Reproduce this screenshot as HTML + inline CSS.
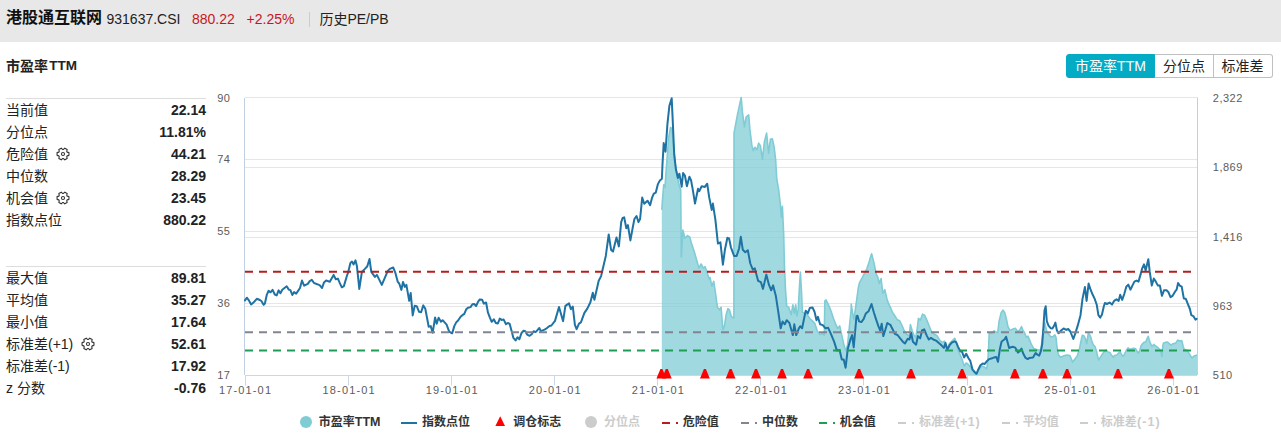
<!DOCTYPE html>
<html lang="zh"><head><meta charset="utf-8"><title>历史PE/PB</title><style>
html,body{margin:0;padding:0}
body{width:1281px;height:442px;position:relative;overflow:hidden;background:#fff;font-family:"Liberation Sans","Noto Sans CJK SC",sans-serif;color:#333}
.hdr{position:absolute;left:0;top:0;width:1281px;height:42px;background:#e8e8e8}
.t{position:absolute;line-height:1;white-space:nowrap}
.sep{position:absolute;left:309px;top:12px;width:1px;height:15px;background:#ccc}
.btns{position:absolute;left:1066px;top:54px;width:207px;height:24px}
.b{position:absolute;top:0;height:22px;border:1px solid #c0c0c0;background:#fff;box-sizing:content-box}
.b.on{background:#04abc4;border-color:#04abc4;border-radius:3px 0 0 3px}
.b:last-child{border-radius:0 3px 3px 0}
.hl{position:absolute;left:6px;width:200px;height:1px;background:#ddd}
.gear{position:absolute}
.chart{position:absolute;left:0;top:0}
.chart text{font-family:"Liberation Sans",sans-serif}
.li{position:absolute}
</style></head>
<body>
<div class="hdr"><span class="t" style="font-size:16px;top:10.2px;color:#111;left:6px;font-weight:bold;">港股通互联网</span><span class="t" style="font-size:14px;top:11.75px;color:#222;left:106.5px;">931637.CSI</span><span class="t" style="font-size:14px;top:11.75px;color:#c7161e;left:192px;">880.22</span><span class="t" style="font-size:14px;top:11.75px;color:#c7161e;left:246.6px;">+2.25%</span><i class="sep"></i><span class="t" style="font-size:14px;top:11.5px;color:#222;left:319.5px;">历史</span><span class="t" style="font-size:14px;top:11.75px;color:#222;left:347.4px;">PE/PB</span></div><span class="t" style="font-size:14px;top:58.5px;color:#222;left:6px;font-weight:bold;">市盈率</span><span class="t" style="font-size:13.5px;top:59.07px;color:#222;left:49.2px;font-weight:bold;">TTM</span><div class="btns"><div class="b on" style="left:0;width:87px"><span class="t" style="font-size:14px;top:3.8px;color:#fff;left:8.1px;">市盈率</span><span class="t" style="font-size:14px;top:3.95px;color:#fff;left:50.1px;">TTM</span></div><div class="b" style="left:89px;width:58px;border-left:0"><span class="t" style="font-size:14px;top:3.8px;color:#222;left:8px;">分位点</span></div><div class="b" style="left:148px;width:58px;border-left:0"><span class="t" style="font-size:14px;top:3.8px;color:#222;left:7.6px;">标准差</span></div></div><i class="hl" style="top:98px"></i><span class="t" style="font-size:14px;top:102.5px;color:#222;left:6px;">当前值</span><span class="t" style="font-size:14px;top:103.15px;color:#222;right:1075px;font-weight:bold;">22.14</span><span class="t" style="font-size:14px;top:124.5px;color:#222;left:6px;">分位点</span><span class="t" style="font-size:14px;top:125.15px;color:#222;right:1075px;font-weight:bold;">11.81%</span><span class="t" style="font-size:14px;top:146.5px;color:#222;left:6px;">危险值</span><svg class="gear" style="left:55px;top:145.7px" width="16" height="16" viewBox="55 145.7 16 16"><path d="M67.20 151.83 L68.94 152.33 L68.94 155.07 L67.20 155.57 L66.72 156.40 L67.16 158.16 L64.78 159.53 L63.48 158.27 L62.52 158.27 L61.22 159.53 L58.84 158.16 L59.28 156.40 L58.80 155.57 L57.06 155.07 L57.06 152.33 L58.80 151.83 L59.28 151.00 L58.84 149.24 L61.22 147.87 L62.52 149.13 L63.48 149.13 L64.78 147.87 L67.16 149.24 L66.72 151.00Z" fill="none" stroke="#333" stroke-width="1.1" stroke-linejoin="round"/><circle cx="63" cy="153.7" r="1.55" fill="none" stroke="#333" stroke-width="1.05"/></svg><span class="t" style="font-size:14px;top:147.15px;color:#222;right:1075px;font-weight:bold;">44.21</span><span class="t" style="font-size:14px;top:168.5px;color:#222;left:6px;">中位数</span><span class="t" style="font-size:14px;top:169.15px;color:#222;right:1075px;font-weight:bold;">28.29</span><span class="t" style="font-size:14px;top:190.5px;color:#222;left:6px;">机会值</span><svg class="gear" style="left:55px;top:189.7px" width="16" height="16" viewBox="55 189.7 16 16"><path d="M67.20 195.83 L68.94 196.33 L68.94 199.07 L67.20 199.57 L66.72 200.40 L67.16 202.16 L64.78 203.53 L63.48 202.27 L62.52 202.27 L61.22 203.53 L58.84 202.16 L59.28 200.40 L58.80 199.57 L57.06 199.07 L57.06 196.33 L58.80 195.83 L59.28 195.00 L58.84 193.24 L61.22 191.87 L62.52 193.13 L63.48 193.13 L64.78 191.87 L67.16 193.24 L66.72 195.00Z" fill="none" stroke="#333" stroke-width="1.1" stroke-linejoin="round"/><circle cx="63" cy="197.7" r="1.55" fill="none" stroke="#333" stroke-width="1.05"/></svg><span class="t" style="font-size:14px;top:191.15px;color:#222;right:1075px;font-weight:bold;">23.45</span><span class="t" style="font-size:14px;top:212.5px;color:#222;left:6px;">指数点位</span><span class="t" style="font-size:14px;top:213.15px;color:#222;right:1075px;font-weight:bold;">880.22</span><i class="hl" style="top:266px"></i><span class="t" style="font-size:14px;top:270.5px;color:#222;left:6px;">最大值</span><span class="t" style="font-size:14px;top:271.15px;color:#222;right:1075px;font-weight:bold;">89.81</span><span class="t" style="font-size:14px;top:292.5px;color:#222;left:6px;">平均值</span><span class="t" style="font-size:14px;top:293.15px;color:#222;right:1075px;font-weight:bold;">35.27</span><span class="t" style="font-size:14px;top:314.5px;color:#222;left:6px;">最小值</span><span class="t" style="font-size:14px;top:315.15px;color:#222;right:1075px;font-weight:bold;">17.64</span><span class="t" style="font-size:14px;top:336.5px;color:#222;left:6px;">标准差</span><span class="t" style="font-size:14px;top:336.85px;color:#222;left:48px;">(+1)</span><svg class="gear" style="left:80px;top:335.7px" width="16" height="16" viewBox="80 335.7 16 16"><path d="M92.20 341.83 L93.94 342.33 L93.94 345.07 L92.20 345.57 L91.72 346.40 L92.16 348.16 L89.78 349.53 L88.48 348.27 L87.52 348.27 L86.22 349.53 L83.84 348.16 L84.28 346.40 L83.80 345.57 L82.06 345.07 L82.06 342.33 L83.80 341.83 L84.28 341.00 L83.84 339.24 L86.22 337.87 L87.52 339.13 L88.48 339.13 L89.78 337.87 L92.16 339.24 L91.72 341.00Z" fill="none" stroke="#333" stroke-width="1.1" stroke-linejoin="round"/><circle cx="88" cy="343.7" r="1.55" fill="none" stroke="#333" stroke-width="1.05"/></svg><span class="t" style="font-size:14px;top:337.15px;color:#222;right:1075px;font-weight:bold;">52.61</span><span class="t" style="font-size:14px;top:358.5px;color:#222;left:6px;">标准差</span><span class="t" style="font-size:14px;top:358.85px;color:#222;left:48px;">(-1)</span><span class="t" style="font-size:14px;top:359.15px;color:#222;right:1075px;font-weight:bold;">17.92</span><span class="t" style="font-size:14px;top:380.85px;color:#222;left:6px;">z</span><span class="t" style="font-size:14px;top:380.5px;color:#222;left:17px;">分数</span><span class="t" style="font-size:14px;top:381.15px;color:#222;right:1075px;font-weight:bold;">-0.76</span><svg class="chart" width="1281" height="442" viewBox="0 0 1281 442"><path d="M245 159.5 H1198" stroke="#e6e6e6" stroke-width="1"/><path d="M245 231.5 H1198" stroke="#e6e6e6" stroke-width="1"/><path d="M245 303.5 H1198" stroke="#e6e6e6" stroke-width="1"/><path d="M245 167.5 H1198" stroke="#e6e6e6" stroke-width="1"/><path d="M245 237.5 H1198" stroke="#e6e6e6" stroke-width="1"/><path d="M245 306.5 H1198" stroke="#e6e6e6" stroke-width="1"/><path d="M245 97.5 H1198" stroke="#e6e6e6" stroke-width="1"/><path d="M661.8 375.5 L661.8 209.8 L662.5 199.7 L663.7 184.7 L665.0 187.2 L666.2 169.8 L668.7 137.4 L670.5 127.4 L671.9 128.6 L673.7 147.3 L675.4 164.8 L677.4 177.2 L679.4 186.0 L680.7 189.7 L681.3 257.0 L682.9 230.0 L684.8 238.3 L687.5 235.6 L689.7 236.9 L691.6 243.7 L694.3 251.8 L697.0 261.3 L698.9 268.1 L701.1 264.0 L703.3 268.1 L705.1 266.7 L707.0 272.2 L709.2 279.0 L710.0 277.5 L711.9 286.2 L713.7 281.2 L715.4 292.4 L717.4 307.3 L719.4 309.8 L721.1 307.3 L722.9 329.7 L724.4 326.0 L726.1 314.8 L727.9 308.6 L729.4 309.8 L731.1 316.0 L732.3 317.3 L733.9 318.0 L734.0 134.0 L734.0 133.1 L737.5 114.4 L741.2 97.5 L742.4 111.9 L744.4 126.9 L746.2 116.9 L748.7 114.9 L749.9 129.4 L751.9 145.6 L753.2 150.6 L754.9 147.3 L756.9 149.8 L758.6 143.1 L760.4 145.6 L762.4 159.3 L764.4 141.8 L766.6 133.1 L768.6 153.1 L770.4 139.4 L772.4 138.9 L774.1 146.8 L775.6 159.3 L776.8 179.2 L778.7 190.0 L780.4 204.9 L781.4 217.4 L782.4 206.2 L783.7 234.8 L784.4 264.6 L785.5 289.9 L786.7 306.0 L788.7 307.3 L791.2 314.7 L792.9 304.8 L794.4 313.5 L795.7 304.8 L796.9 316.0 L798.2 309.8 L799.4 287.4 L800.4 272.0 L801.4 289.9 L802.4 312.2 L804.9 313.5 L807.3 314.7 L809.8 318.5 L812.3 320.9 L814.8 323.4 L817.3 330.9 L819.8 334.6 L822.3 333.4 L824.3 335.1 L824.8 301.1 L826.0 299.8 L828.5 304.8 L831.0 311.0 L833.5 318.5 L835.9 324.7 L837.7 328.4 L839.7 325.9 L842.2 337.1 L844.1 345.8 L845.9 350.8 L847.6 344.6 L849.6 324.7 L851.1 309.8 L851.2 304.1 L852.5 312.1 L853.7 319.6 L855.0 312.1 L856.7 299.7 L858.2 288.5 L859.4 282.8 L862.4 277.3 L864.9 272.3 L866.9 268.6 L868.6 263.6 L870.4 257.4 L871.6 253.7 L872.9 258.6 L874.4 264.9 L876.1 273.6 L877.8 277.3 L879.3 283.5 L881.1 278.5 L882.8 293.5 L884.8 289.7 L886.8 298.4 L888.5 303.4 L890.3 307.1 L892.3 312.1 L894.8 315.8 L897.2 319.6 L899.7 320.8 L902.2 325.8 L904.2 330.8 L906.7 334.5 L909.2 335.7 L910.4 324.5 L912.2 330.8 L914.1 335.7 L915.9 337.0 L917.6 325.8 L918.4 318.3 L920.4 320.1 L922.6 314.1 L924.6 315.1 L926.6 319.6 L929.1 325.8 L931.6 332.0 L934.0 334.0 L937.0 335.7 L940.0 340.6 L942.5 342.4 L944.4 341.2 L946.2 346.8 L947.5 348.0 L949.3 343.7 L952.4 340.6 L954.7 338.4 L956.2 341.8 L958.0 349.9 L959.9 354.2 L961.8 358.6 L963.4 363.6 L964.3 366.1 L966.1 363.0 L968.0 364.2 L969.9 366.1 L971.1 368.6 L973.0 371.0 L975.5 374.3 L977.3 372.9 L979.8 367.9 L982.3 366.1 L984.8 367.3 L986.7 368.8 L987.9 359.8 L988.5 349.9 L989.2 332.7 L991.5 333.2 L994.1 330.9 L996.3 332.1 L997.7 332.7 L999.1 321.2 L1001.2 312.4 L1003.0 310.2 L1004.7 312.4 L1006.5 319.4 L1007.9 326.5 L1010.0 330.4 L1012.7 329.1 L1015.3 328.2 L1018.0 331.8 L1019.7 330.0 L1021.5 326.5 L1022.7 330.0 L1024.5 332.7 L1026.3 337.1 L1028.0 336.2 L1029.8 340.6 L1031.6 345.0 L1033.9 348.6 L1036.5 349.4 L1039.2 350.3 L1040.9 349.4 L1042.7 335.3 L1044.7 322.7 L1046.8 331.5 L1048.8 334.2 L1050.9 337.0 L1052.9 336.6 L1054.9 334.9 L1056.0 337.6 L1057.0 347.1 L1058.3 354.6 L1060.4 357.3 L1062.4 356.4 L1064.4 355.6 L1067.1 355.0 L1069.9 355.6 L1071.5 359.4 L1072.6 362.1 L1074.6 359.4 L1077.3 356.0 L1079.4 349.2 L1080.7 342.4 L1082.3 335.2 L1084.1 336.0 L1085.5 339.0 L1086.8 343.7 L1088.2 333.6 L1089.5 334.2 L1090.9 337.6 L1092.2 342.4 L1093.6 345.1 L1095.0 346.5 L1096.3 350.5 L1097.7 356.6 L1098.6 360.0 L1100.4 357.3 L1102.4 353.9 L1104.5 351.2 L1106.2 350.1 L1107.9 351.9 L1109.9 352.6 L1111.9 355.6 L1113.3 357.3 L1114.6 355.6 L1116.7 355.0 L1118.7 353.2 L1120.1 351.9 L1121.4 354.2 L1122.8 356.4 L1124.1 355.0 L1126.2 350.5 L1128.2 347.8 L1129.6 349.2 L1131.6 348.8 L1133.6 348.2 L1135.7 348.8 L1137.0 351.2 L1138.4 353.2 L1139.7 350.5 L1141.1 345.8 L1142.5 343.7 L1143.8 342.4 L1145.8 341.7 L1146.9 339.0 L1148.2 336.3 L1149.2 339.7 L1150.6 343.7 L1152.0 346.5 L1153.7 344.4 L1155.3 345.8 L1157.4 347.1 L1159.4 349.2 L1160.8 350.5 L1161.9 356.4 L1162.8 345.8 L1163.5 343.1 L1165.5 342.4 L1167.6 342.0 L1168.9 343.3 L1171.0 345.1 L1173.0 343.7 L1175.7 343.1 L1177.7 340.1 L1179.8 341.0 L1181.8 340.6 L1183.2 346.5 L1184.1 349.2 L1186.6 349.9 L1188.6 352.6 L1190.6 356.0 L1192.0 358.0 L1194.0 356.0 L1197.1 355.0 L1197 375.5 Z" fill="#80ccd5" fill-opacity=".75" stroke="none"/><path d="M661.8 209.8 L662.5 199.7 L663.7 184.7 L665.0 187.2 L666.2 169.8 L668.7 137.4 L670.5 127.4 L671.9 128.6 L673.7 147.3 L675.4 164.8 L677.4 177.2 L679.4 186.0 L680.7 189.7 L681.3 257.0 L682.9 230.0 L684.8 238.3 L687.5 235.6 L689.7 236.9 L691.6 243.7 L694.3 251.8 L697.0 261.3 L698.9 268.1 L701.1 264.0 L703.3 268.1 L705.1 266.7 L707.0 272.2 L709.2 279.0 L710.0 277.5 L711.9 286.2 L713.7 281.2 L715.4 292.4 L717.4 307.3 L719.4 309.8 L721.1 307.3 L722.9 329.7 L724.4 326.0 L726.1 314.8 L727.9 308.6 L729.4 309.8 L731.1 316.0 L732.3 317.3 L733.9 318.0 L734.0 134.0 L734.0 133.1 L737.5 114.4 L741.2 97.5 L742.4 111.9 L744.4 126.9 L746.2 116.9 L748.7 114.9 L749.9 129.4 L751.9 145.6 L753.2 150.6 L754.9 147.3 L756.9 149.8 L758.6 143.1 L760.4 145.6 L762.4 159.3 L764.4 141.8 L766.6 133.1 L768.6 153.1 L770.4 139.4 L772.4 138.9 L774.1 146.8 L775.6 159.3 L776.8 179.2 L778.7 190.0 L780.4 204.9 L781.4 217.4 L782.4 206.2 L783.7 234.8 L784.4 264.6 L785.5 289.9 L786.7 306.0 L788.7 307.3 L791.2 314.7 L792.9 304.8 L794.4 313.5 L795.7 304.8 L796.9 316.0 L798.2 309.8 L799.4 287.4 L800.4 272.0 L801.4 289.9 L802.4 312.2 L804.9 313.5 L807.3 314.7 L809.8 318.5 L812.3 320.9 L814.8 323.4 L817.3 330.9 L819.8 334.6 L822.3 333.4 L824.3 335.1 L824.8 301.1 L826.0 299.8 L828.5 304.8 L831.0 311.0 L833.5 318.5 L835.9 324.7 L837.7 328.4 L839.7 325.9 L842.2 337.1 L844.1 345.8 L845.9 350.8 L847.6 344.6 L849.6 324.7 L851.1 309.8 L851.2 304.1 L852.5 312.1 L853.7 319.6 L855.0 312.1 L856.7 299.7 L858.2 288.5 L859.4 282.8 L862.4 277.3 L864.9 272.3 L866.9 268.6 L868.6 263.6 L870.4 257.4 L871.6 253.7 L872.9 258.6 L874.4 264.9 L876.1 273.6 L877.8 277.3 L879.3 283.5 L881.1 278.5 L882.8 293.5 L884.8 289.7 L886.8 298.4 L888.5 303.4 L890.3 307.1 L892.3 312.1 L894.8 315.8 L897.2 319.6 L899.7 320.8 L902.2 325.8 L904.2 330.8 L906.7 334.5 L909.2 335.7 L910.4 324.5 L912.2 330.8 L914.1 335.7 L915.9 337.0 L917.6 325.8 L918.4 318.3 L920.4 320.1 L922.6 314.1 L924.6 315.1 L926.6 319.6 L929.1 325.8 L931.6 332.0 L934.0 334.0 L937.0 335.7 L940.0 340.6 L942.5 342.4 L944.4 341.2 L946.2 346.8 L947.5 348.0 L949.3 343.7 L952.4 340.6 L954.7 338.4 L956.2 341.8 L958.0 349.9 L959.9 354.2 L961.8 358.6 L963.4 363.6 L964.3 366.1 L966.1 363.0 L968.0 364.2 L969.9 366.1 L971.1 368.6 L973.0 371.0 L975.5 374.3 L977.3 372.9 L979.8 367.9 L982.3 366.1 L984.8 367.3 L986.7 368.8 L987.9 359.8 L988.5 349.9 L989.2 332.7 L991.5 333.2 L994.1 330.9 L996.3 332.1 L997.7 332.7 L999.1 321.2 L1001.2 312.4 L1003.0 310.2 L1004.7 312.4 L1006.5 319.4 L1007.9 326.5 L1010.0 330.4 L1012.7 329.1 L1015.3 328.2 L1018.0 331.8 L1019.7 330.0 L1021.5 326.5 L1022.7 330.0 L1024.5 332.7 L1026.3 337.1 L1028.0 336.2 L1029.8 340.6 L1031.6 345.0 L1033.9 348.6 L1036.5 349.4 L1039.2 350.3 L1040.9 349.4 L1042.7 335.3 L1044.7 322.7 L1046.8 331.5 L1048.8 334.2 L1050.9 337.0 L1052.9 336.6 L1054.9 334.9 L1056.0 337.6 L1057.0 347.1 L1058.3 354.6 L1060.4 357.3 L1062.4 356.4 L1064.4 355.6 L1067.1 355.0 L1069.9 355.6 L1071.5 359.4 L1072.6 362.1 L1074.6 359.4 L1077.3 356.0 L1079.4 349.2 L1080.7 342.4 L1082.3 335.2 L1084.1 336.0 L1085.5 339.0 L1086.8 343.7 L1088.2 333.6 L1089.5 334.2 L1090.9 337.6 L1092.2 342.4 L1093.6 345.1 L1095.0 346.5 L1096.3 350.5 L1097.7 356.6 L1098.6 360.0 L1100.4 357.3 L1102.4 353.9 L1104.5 351.2 L1106.2 350.1 L1107.9 351.9 L1109.9 352.6 L1111.9 355.6 L1113.3 357.3 L1114.6 355.6 L1116.7 355.0 L1118.7 353.2 L1120.1 351.9 L1121.4 354.2 L1122.8 356.4 L1124.1 355.0 L1126.2 350.5 L1128.2 347.8 L1129.6 349.2 L1131.6 348.8 L1133.6 348.2 L1135.7 348.8 L1137.0 351.2 L1138.4 353.2 L1139.7 350.5 L1141.1 345.8 L1142.5 343.7 L1143.8 342.4 L1145.8 341.7 L1146.9 339.0 L1148.2 336.3 L1149.2 339.7 L1150.6 343.7 L1152.0 346.5 L1153.7 344.4 L1155.3 345.8 L1157.4 347.1 L1159.4 349.2 L1160.8 350.5 L1161.9 356.4 L1162.8 345.8 L1163.5 343.1 L1165.5 342.4 L1167.6 342.0 L1168.9 343.3 L1171.0 345.1 L1173.0 343.7 L1175.7 343.1 L1177.7 340.1 L1179.8 341.0 L1181.8 340.6 L1183.2 346.5 L1184.1 349.2 L1186.6 349.9 L1188.6 352.6 L1190.6 356.0 L1192.0 358.0 L1194.0 356.0 L1197.1 355.0" fill="none" stroke="#80ccd5" stroke-width="1.6" stroke-linejoin="round"/><path d="M244.5 98V375M1197.5 98V375" stroke="#c0d0e0" stroke-width="1" fill="none"/><path d="M245 375.5H1197" stroke="#ccd6eb" stroke-width="1" fill="none"/><path d="M245.5 375.5 v10M348.5 375.5 v10M451.5 375.5 v10M554.5 375.5 v10M657.5 375.5 v10M760.5 375.5 v10M863.5 375.5 v10M967.5 375.5 v10M1070.5 375.5 v10M1173.5 375.5 v10" stroke="#ccd6eb" stroke-width="1"/><path d="M245.0 300.4 L246.8 297.7 L248.5 299.8 L251.2 304.4 L253.7 302.3 L256.8 298.8 L259.9 300.0 L261.4 301.0 L263.6 304.8 L264.9 303.5 L266.8 294.8 L268.6 290.7 L270.5 292.3 L272.6 289.8 L274.8 294.5 L276.7 295.4 L278.6 290.4 L280.4 293.3 L282.3 289.8 L286.7 286.3 L288.8 289.6 L290.4 290.1 L292.3 295.0 L294.1 292.1 L296.2 293.6 L300.0 288.0 L302.0 280.5 L304.1 285.7 L307.8 283.8 L309.7 281.1 L311.8 279.9 L314.0 283.0 L319.6 285.1 L322.1 288.0 L324.0 282.4 L326.1 280.5 L329.8 281.7 L333.6 274.9 L335.8 279.2 L337.9 278.6 L339.6 282.6 L341.8 287.3 L343.9 286.1 L347.0 275.5 L348.0 272.9 L350.4 263.0 L352.0 261.6 L353.6 264.4 L355.5 260.4 L356.9 265.9 L359.3 288.9 L361.9 271.9 L364.9 268.9 L367.3 266.3 L369.5 259.0 L371.3 271.9 L374.9 276.9 L376.9 274.9 L381.8 284.9 L384.8 277.9 L387.8 270.9 L389.8 268.9 L393.2 267.5 L395.4 272.9 L397.8 281.9 L399.2 283.5 L401.4 289.9 L403.0 281.9 L404.8 286.9 L406.4 284.9 L409.2 300.8 L410.7 292.9 L412.7 315.4 L414.7 305.8 L416.7 306.2 L419.1 311.8 L421.1 312.2 L423.3 305.4 L425.3 308.8 L428.7 326.7 L430.7 326.1 L432.7 332.7 L435.1 317.4 L436.7 323.7 L438.6 317.8 L441.0 321.7 L442.6 320.2 L446.6 324.7 L449.2 331.7 L450.0 332.1 L452.2 333.3 L454.3 326.1 L456.2 322.4 L458.1 320.5 L460.6 316.8 L462.4 315.2 L464.3 313.9 L466.2 309.3 L468.0 307.7 L470.5 307.1 L472.4 304.3 L474.2 304.0 L476.1 306.0 L478.0 301.8 L479.8 299.4 L482.1 299.7 L483.8 303.7 L486.1 302.5 L487.9 312.4 L489.8 317.4 L491.7 321.8 L493.8 319.3 L495.8 323.0 L497.9 323.4 L499.8 318.6 L501.6 319.9 L503.7 319.6 L506.0 324.2 L507.8 323.0 L509.7 323.9 L511.6 331.1 L513.4 337.9 L515.6 340.4 L517.5 337.3 L519.4 339.2 L521.5 333.0 L523.6 330.8 L525.3 331.3 L527.1 334.6 L529.6 335.8 L531.7 334.2 L533.6 331.3 L535.6 332.1 L537.7 329.8 L539.3 328.0 L540.8 331.1 L544.6 329.6 L547.0 328.0 L549.5 325.9 L551.4 325.5 L555.0 320.9 L559.0 307.0 L563.1 321.2 L565.4 305.8 L569.0 303.4 L570.9 309.3 L572.8 306.5 L574.9 324.8 L576.6 329.1 L579.0 323.6 L580.9 322.4 L584.4 312.9 L587.3 308.6 L590.4 302.2 L592.8 292.7 L594.4 299.8 L598.7 280.8 L601.1 276.1 L605.8 255.9 L608.7 234.5 L611.1 249.9 L613.0 251.6 L616.5 237.4 L618.9 246.4 L621.2 222.1 L622.6 218.0 L624.2 217.4 L626.3 228.2 L627.9 225.1 L630.4 240.4 L632.8 227.2 L634.4 219.0 L636.5 216.0 L638.5 222.1 L640.1 219.0 L642.2 197.6 L644.2 203.8 L647.6 200.7 L650.1 205.2 L652.1 197.6 L653.8 193.6 L655.8 192.6 L657.8 184.4 L659.9 180.4 L661.9 178.7 L662.5 164.3 L663.7 143.1 L665.5 151.8 L667.4 124.4 L669.4 105.7 L671.7 98.2 L672.9 124.4 L674.2 154.3 L675.9 169.3 L677.9 178.0 L679.4 173.7 L681.7 186.7 L683.1 173.0 L684.9 175.5 L686.9 186.2 L689.4 176.7 L691.1 180.5 L692.9 190.4 L695.0 203.6 L698.0 188.7 L699.2 191.2 L701.7 186.2 L704.9 186.9 L707.2 183.7 L709.2 197.4 L711.7 209.9 L712.9 203.6 L715.4 219.8 L717.9 243.5 L720.4 242.3 L722.9 264.7 L724.9 249.8 L727.4 237.8 L729.1 238.5 L730.9 247.3 L734.1 256.0 L736.6 256.0 L739.1 248.5 L740.8 236.8 L742.8 249.8 L745.3 252.2 L747.8 250.2 L750.3 263.5 L752.8 269.7 L754.8 268.4 L758.1 280.8 L760.9 282.2 L763.0 288.9 L766.3 274.6 L769.0 284.9 L771.2 290.3 L773.1 285.4 L775.8 295.7 L778.5 313.4 L780.7 328.3 L782.6 321.5 L784.8 324.3 L786.7 320.2 L789.4 322.9 L791.3 329.7 L792.9 335.1 L794.3 324.3 L796.2 335.1 L798.9 328.3 L800.2 326.2 L802.1 328.3 L805.7 310.7 L807.8 313.4 L809.8 308.0 L812.5 307.4 L814.6 312.0 L816.5 320.2 L817.9 316.9 L820.1 324.3 L822.8 325.1 L825.5 328.3 L828.2 327.8 L830.9 333.8 L834.2 341.9 L836.9 350.6 L839.6 350.1 L841.8 359.6 L843.7 359.6 L845.6 367.7 L847.8 348.7 L850.5 339.2 L852.1 335.1 L853.7 347.3 L856.5 316.1 L857.5 315.7 L859.1 321.4 L861.3 322.1 L863.6 319.1 L865.8 313.5 L868.6 311.2 L871.5 304.0 L873.8 312.3 L876.0 319.1 L878.3 325.9 L880.1 330.5 L881.7 323.7 L883.3 336.1 L885.5 329.3 L887.3 323.0 L890.3 324.8 L892.6 329.3 L894.8 333.9 L897.5 335.0 L900.2 338.4 L903.2 342.2 L905.0 343.4 L907.7 338.8 L909.5 339.5 L911.1 332.7 L912.9 341.8 L916.1 344.7 L917.9 336.1 L920.2 338.4 L922.0 330.5 L924.2 329.3 L927.0 336.1 L928.8 339.5 L931.0 337.9 L933.3 339.5 L936.0 340.6 L939.4 343.6 L941.7 345.6 L943.9 347.9 L945.5 342.9 L947.3 349.7 L949.6 345.2 L951.9 342.5 L954.6 341.3 L956.2 342.4 L957.9 346.3 L960.2 351.2 L962.0 351.7 L964.1 357.4 L966.2 353.8 L968.5 358.3 L970.3 360.9 L972.6 369.7 L974.7 372.0 L976.5 373.8 L978.2 369.7 L980.4 365.3 L982.7 363.6 L984.8 363.9 L987.1 360.9 L989.2 359.1 L992.0 358.3 L994.1 357.4 L996.3 356.9 L998.0 361.8 L999.8 349.4 L1001.6 341.5 L1003.3 340.3 L1004.7 339.2 L1006.1 336.7 L1007.4 341.5 L1009.1 348.0 L1010.9 347.3 L1013.2 346.8 L1015.3 347.7 L1018.0 352.6 L1019.7 351.2 L1021.5 348.6 L1023.3 353.8 L1025.6 357.9 L1027.7 359.1 L1029.4 357.9 L1033.0 357.4 L1035.6 353.0 L1037.4 354.7 L1039.2 355.6 L1040.9 351.2 L1042.2 344.1 L1043.6 324.7 L1044.5 310.6 L1045.7 306.2 L1046.8 321.2 L1048.5 325.6 L1050.6 328.2 L1052.4 328.6 L1054.2 325.6 L1055.4 322.6 L1056.8 330.0 L1058.1 332.7 L1058.7 333.1 L1061.1 330.5 L1063.6 328.4 L1066.2 329.9 L1068.2 329.0 L1070.3 331.5 L1073.3 339.0 L1075.4 333.1 L1077.8 325.4 L1080.5 315.2 L1082.5 298.9 L1084.9 287.1 L1086.6 300.9 L1088.6 283.6 L1090.6 289.7 L1092.7 294.8 L1094.7 298.9 L1096.8 305.0 L1098.4 315.2 L1100.2 317.6 L1101.9 314.8 L1103.9 306.0 L1104.9 303.0 L1106.9 304.0 L1109.6 302.6 L1112.0 304.6 L1114.1 300.9 L1116.5 299.3 L1118.6 300.9 L1120.2 294.8 L1122.2 299.9 L1124.3 293.8 L1126.3 286.7 L1128.3 284.6 L1130.4 289.7 L1132.4 285.6 L1134.4 281.6 L1136.5 280.6 L1138.5 281.6 L1140.6 274.4 L1142.2 268.3 L1144.0 264.3 L1145.6 270.4 L1148.3 259.2 L1149.7 271.4 L1151.8 285.6 L1153.8 278.5 L1155.8 281.6 L1157.9 285.6 L1159.9 285.6 L1161.9 295.8 L1164.0 290.3 L1166.5 290.3 L1168.5 292.3 L1170.5 297.2 L1172.6 295.8 L1175.0 291.7 L1176.6 289.7 L1178.1 283.0 L1179.7 285.6 L1181.7 286.6 L1183.8 298.4 L1185.8 298.8 L1187.8 303.9 L1189.9 309.0 L1191.3 315.1 L1193.3 316.1 L1195.4 319.6 L1196.6 318.8" fill="none" stroke="#1f73a4" stroke-width="2" stroke-linejoin="round" stroke-linecap="round"/><path d="M245 271.7 H1197" stroke="#b81c1c" stroke-width="2" stroke-dasharray="8 6"/><path d="M245 332.2 H1197" stroke="#808591" stroke-width="2" stroke-dasharray="8 6"/><path d="M245 350.5 H1197" stroke="#1e9e55" stroke-width="2" stroke-dasharray="8 6"/><path d="M660.4 369.1 h2 l3.9 9.5 h-9.8z" fill="#f00"/><path d="M665.8 369.1 h2 l3.9 9.5 h-9.8z" fill="#f00"/><path d="M703.9 369.1 h2 l3.9 9.5 h-9.8z" fill="#f00"/><path d="M729.6 369.1 h2 l3.9 9.5 h-9.8z" fill="#f00"/><path d="M755 369.1 h2 l3.9 9.5 h-9.8z" fill="#f00"/><path d="M781 369.1 h2 l3.9 9.5 h-9.8z" fill="#f00"/><path d="M807.1 369.1 h2 l3.9 9.5 h-9.8z" fill="#f00"/><path d="M858.1 369.1 h2 l3.9 9.5 h-9.8z" fill="#f00"/><path d="M910 369.1 h2 l3.9 9.5 h-9.8z" fill="#f00"/><path d="M961.1 369.1 h2 l3.9 9.5 h-9.8z" fill="#f00"/><path d="M1013.9 369.1 h2 l3.9 9.5 h-9.8z" fill="#f00"/><path d="M1041.9 369.1 h2 l3.9 9.5 h-9.8z" fill="#f00"/><path d="M1066.1 369.1 h2 l3.9 9.5 h-9.8z" fill="#f00"/><path d="M1117 369.1 h2 l3.9 9.5 h-9.8z" fill="#f00"/><path d="M1167.9 369.1 h2 l3.9 9.5 h-9.8z" fill="#f00"/><text x="229.8" y="102" text-anchor="end" textLength="12.6" lengthAdjust="spacing" fill="#5c5c5c" font-size="11">90</text><text x="229.8" y="163" text-anchor="end" textLength="12.6" lengthAdjust="spacing" fill="#5c5c5c" font-size="11">74</text><text x="229.8" y="235" text-anchor="end" textLength="12.6" lengthAdjust="spacing" fill="#5c5c5c" font-size="11">55</text><text x="229.8" y="307" text-anchor="end" textLength="12.6" lengthAdjust="spacing" fill="#5c5c5c" font-size="11">36</text><text x="229.8" y="379" text-anchor="end" textLength="12.6" lengthAdjust="spacing" fill="#5c5c5c" font-size="11">17</text><text x="1212.8" y="102" textLength="29.5" lengthAdjust="spacing" fill="#5c5c5c" font-size="11">2,322</text><text x="1212.8" y="171" textLength="29.5" lengthAdjust="spacing" fill="#5c5c5c" font-size="11">1,869</text><text x="1212.8" y="241" textLength="29.5" lengthAdjust="spacing" fill="#5c5c5c" font-size="11">1,416</text><text x="1212.8" y="310" textLength="19.4" lengthAdjust="spacing" fill="#5c5c5c" font-size="11">963</text><text x="1212.8" y="379" textLength="19.4" lengthAdjust="spacing" fill="#5c5c5c" font-size="11">510</text><text x="219" y="394" textLength="52" lengthAdjust="spacing" fill="#5c5c5c" font-size="11">17-01-01</text><text x="322.58" y="394" textLength="52" lengthAdjust="spacing" fill="#5c5c5c" font-size="11">18-01-01</text><text x="425.66" y="394" textLength="52" lengthAdjust="spacing" fill="#5c5c5c" font-size="11">19-01-01</text><text x="528.74" y="394" textLength="52" lengthAdjust="spacing" fill="#5c5c5c" font-size="11">20-01-01</text><text x="631.82" y="394" textLength="52" lengthAdjust="spacing" fill="#5c5c5c" font-size="11">21-01-01</text><text x="734.9" y="394" textLength="52" lengthAdjust="spacing" fill="#5c5c5c" font-size="11">22-01-01</text><text x="837.98" y="394" textLength="52" lengthAdjust="spacing" fill="#5c5c5c" font-size="11">23-01-01</text><text x="941.06" y="394" textLength="52" lengthAdjust="spacing" fill="#5c5c5c" font-size="11">24-01-01</text><text x="1044.14" y="394" textLength="52" lengthAdjust="spacing" fill="#5c5c5c" font-size="11">25-01-01</text><text x="1147.3" y="394" textLength="52" lengthAdjust="spacing" fill="#5c5c5c" font-size="11">26-01-01</text></svg><svg class="li" style="left:298.8px;top:415.1px" width="14" height="14"><circle cx="7" cy="7" r="6" fill="#80ccd5"/></svg><span class="t" style="font-size:12px;top:415.9px;color:#333;left:318.8px;font-weight:bold;">市盈率</span><span class="t" style="font-size:12.5px;top:415.82px;color:#333;left:354.8px;font-weight:bold;">TTM</span><svg class="li" style="left:400.6px;top:416.6px" width="16" height="12"><path d="M0 6H16" stroke="#1f73a4" stroke-width="2"/></svg><span class="t" style="font-size:12px;top:415.9px;color:#333;left:422.1px;font-weight:bold;">指数点位</span><svg class="li" style="left:495px;top:416.4px" width="11" height="11"><path d="M5.2 0.3 L10 10 H0.4z" fill="#f00"/></svg><span class="t" style="font-size:12px;top:415.9px;color:#333;left:513.3px;font-weight:bold;">调仓标志</span><svg class="li" style="left:584.3px;top:415.1px" width="14" height="14"><circle cx="7" cy="7" r="6" fill="#ccc"/></svg><span class="t" style="font-size:12px;top:415.9px;color:#ccc;left:604.1px;font-weight:bold;">分位点</span><svg class="li" style="left:661.7px;top:416.6px" width="16" height="12"><path d="M0 6H16" stroke="#b81c1c" stroke-width="2" stroke-dasharray="8 6"/></svg><span class="t" style="font-size:12px;top:415.9px;color:#333;left:682.7px;font-weight:bold;">危险值</span><svg class="li" style="left:740.6px;top:416.6px" width="16" height="12"><path d="M0 6H16" stroke="#808591" stroke-width="2" stroke-dasharray="8 6"/></svg><span class="t" style="font-size:12px;top:415.9px;color:#333;left:761.9px;font-weight:bold;">中位数</span><svg class="li" style="left:818.6px;top:416.6px" width="16" height="12"><path d="M0 6H16" stroke="#1e9e55" stroke-width="2" stroke-dasharray="8 6"/></svg><span class="t" style="font-size:12px;top:415.9px;color:#333;left:839.8px;font-weight:bold;">机会值</span><svg class="li" style="left:898px;top:416.6px" width="16" height="12"><path d="M0 6H16" stroke="#ccc" stroke-width="2" stroke-dasharray="8 6"/></svg><span class="t" style="font-size:12px;top:415.9px;color:#ccc;left:919px;font-weight:bold;">标准差</span><span class="t" style="font-size:12.5px;top:415.82px;color:#ccc;left:955.2px;font-weight:bold;letter-spacing:.6px;">(+1)</span><svg class="li" style="left:1001.6px;top:416.6px" width="16" height="12"><path d="M0 6H16" stroke="#ccc" stroke-width="2" stroke-dasharray="8 6"/></svg><span class="t" style="font-size:12px;top:415.9px;color:#ccc;left:1022.8px;font-weight:bold;">平均值</span><svg class="li" style="left:1080.1px;top:416.6px" width="16" height="12"><path d="M0 6H16" stroke="#ccc" stroke-width="2" stroke-dasharray="8 6"/></svg><span class="t" style="font-size:12px;top:415.9px;color:#ccc;left:1100.7px;font-weight:bold;">标准差</span><span class="t" style="font-size:12.5px;top:415.82px;color:#ccc;left:1137px;font-weight:bold;letter-spacing:1.1px;">(-1)</span>
</body></html>
